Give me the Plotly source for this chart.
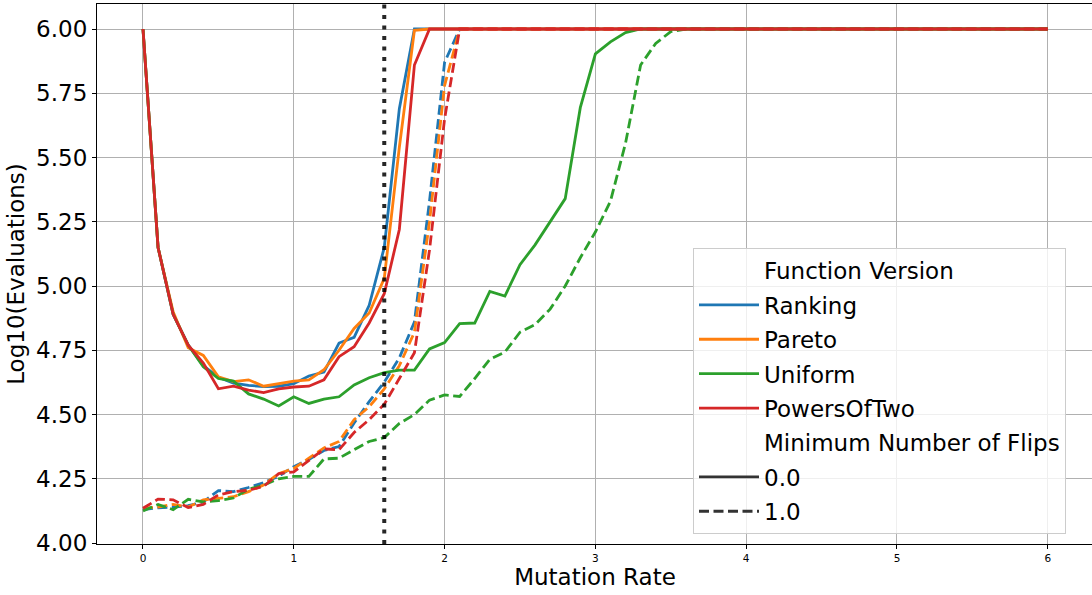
import plotly.graph_objects as go

# ---------------- data ----------------
mutation_rate = [
    0.0, 0.1, 0.2, 0.3, 0.4, 0.5, 0.6, 0.7, 0.8, 0.9,
    1.0, 1.1, 1.2, 1.3, 1.4, 1.5, 1.6, 1.7, 1.8, 1.9,
    2.0, 2.1, 2.2, 2.3, 2.4, 2.5, 2.6, 2.7, 2.8, 2.9,
    3.0, 3.1, 3.2, 3.3, 3.4, 3.5, 3.6, 3.7, 3.8, 3.9,
    4.0, 4.1, 4.2, 4.3, 4.4, 4.5, 4.6, 4.7, 4.8, 4.9,
    5.0, 5.1, 5.2, 5.3, 5.4, 5.5, 5.6, 5.7, 5.8, 5.9,
    6.0,
]

function_versions = ["Ranking", "Pareto", "Uniform", "PowersOfTwo"]
min_flips_levels = ["0.0", "1.0"]

ranking_flips0 = [
    6.0, 5.15, 4.89, 4.77, 4.69, 4.645, 4.622, 4.613, 4.609, 4.61,
    4.62, 4.65, 4.665, 4.778, 4.80, 4.925, 5.15, 5.69, 6.0, 6.0,
    6.0, 6.0, 6.0, 6.0, 6.0, 6.0, 6.0, 6.0, 6.0, 6.0,
    6.0, 6.0, 6.0, 6.0, 6.0, 6.0, 6.0, 6.0, 6.0, 6.0,
    6.0, 6.0, 6.0, 6.0, 6.0, 6.0, 6.0, 6.0, 6.0, 6.0,
    6.0, 6.0, 6.0, 6.0, 6.0, 6.0, 6.0, 6.0, 6.0, 6.0,
    6.0,
]
pareto_flips0 = [
    6.0, 5.15, 4.90, 4.76, 4.73, 4.647, 4.628, 4.635, 4.61, 4.62,
    4.63, 4.635, 4.674, 4.75, 4.835, 4.895, 5.03, 5.54, 5.995, 6.0,
    6.0, 6.0, 6.0, 6.0, 6.0, 6.0, 6.0, 6.0, 6.0, 6.0,
    6.0, 6.0, 6.0, 6.0, 6.0, 6.0, 6.0, 6.0, 6.0, 6.0,
    6.0, 6.0, 6.0, 6.0, 6.0, 6.0, 6.0, 6.0, 6.0, 6.0,
    6.0, 6.0, 6.0, 6.0, 6.0, 6.0, 6.0, 6.0, 6.0, 6.0,
    6.0,
]
uniform_flips0 = [
    6.0, 5.15, 4.89, 4.77, 4.686, 4.64, 4.63, 4.58, 4.56, 4.533,
    4.569, 4.543, 4.56, 4.569, 4.615, 4.643, 4.663, 4.673, 4.673, 4.755,
    4.78, 4.854, 4.856, 4.979, 4.961, 5.083, 5.16, 5.25, 5.34, 5.694,
    5.903, 5.95, 5.986, 6.0, 6.0, 6.0, 6.0, 6.0, 6.0, 6.0,
    6.0, 6.0, 6.0, 6.0, 6.0, 6.0, 6.0, 6.0, 6.0, 6.0,
    6.0, 6.0, 6.0, 6.0, 6.0, 6.0, 6.0, 6.0, 6.0, 6.0,
    6.0,
]
powers_flips0 = [
    6.0, 5.15, 4.89, 4.77, 4.70, 4.60, 4.61, 4.595, 4.585, 4.60,
    4.607, 4.61, 4.635, 4.725, 4.764, 4.856, 4.97, 5.22, 5.86, 6.0,
    6.0, 6.0, 6.0, 6.0, 6.0, 6.0, 6.0, 6.0, 6.0, 6.0,
    6.0, 6.0, 6.0, 6.0, 6.0, 6.0, 6.0, 6.0, 6.0, 6.0,
    6.0, 6.0, 6.0, 6.0, 6.0, 6.0, 6.0, 6.0, 6.0, 6.0,
    6.0, 6.0, 6.0, 6.0, 6.0, 6.0, 6.0, 6.0, 6.0, 6.0,
    6.0,
]

ranking_flips1 = [
    4.13, 4.137, 4.14, 4.145, 4.16, 4.204, 4.20, 4.216, 4.235, 4.26,
    4.297, 4.325, 4.36, 4.375, 4.467, 4.55, 4.626, 4.72, 4.86, 5.33,
    5.87, 6.0, 6.0, 6.0, 6.0, 6.0, 6.0, 6.0, 6.0, 6.0,
    6.0, 6.0, 6.0, 6.0, 6.0, 6.0, 6.0, 6.0, 6.0, 6.0,
    6.0, 6.0, 6.0, 6.0, 6.0, 6.0, 6.0, 6.0, 6.0, 6.0,
    6.0, 6.0, 6.0, 6.0, 6.0, 6.0, 6.0, 6.0, 6.0, 6.0,
    6.0,
]
pareto_flips1 = [
    4.135, 4.14, 4.15, 4.14, 4.168, 4.175, 4.18, 4.20, 4.226, 4.27,
    4.29, 4.33, 4.37, 4.395, 4.48, 4.53, 4.60, 4.69, 4.82, 5.25,
    5.78, 6.0, 6.0, 6.0, 6.0, 6.0, 6.0, 6.0, 6.0, 6.0,
    6.0, 6.0, 6.0, 6.0, 6.0, 6.0, 6.0, 6.0, 6.0, 6.0,
    6.0, 6.0, 6.0, 6.0, 6.0, 6.0, 6.0, 6.0, 6.0, 6.0,
    6.0, 6.0, 6.0, 6.0, 6.0, 6.0, 6.0, 6.0, 6.0, 6.0,
    6.0,
]
uniform_flips1 = [
    4.125, 4.15, 4.13, 4.17, 4.16, 4.165, 4.175, 4.21, 4.225, 4.25,
    4.259, 4.259, 4.327, 4.33, 4.363, 4.395, 4.41, 4.465, 4.50, 4.556,
    4.576, 4.57, 4.64, 4.715, 4.743, 4.82, 4.85, 4.91, 5.0, 5.11,
    5.21, 5.33, 5.556, 5.86, 5.944, 5.99, 6.0, 6.0, 6.0, 6.0,
    6.0, 6.0, 6.0, 6.0, 6.0, 6.0, 6.0, 6.0, 6.0, 6.0,
    6.0, 6.0, 6.0, 6.0, 6.0, 6.0, 6.0, 6.0, 6.0, 6.0,
    6.0,
]
powers_flips1 = [
    4.135, 4.171, 4.168, 4.138, 4.15, 4.187, 4.20, 4.205, 4.22, 4.27,
    4.277, 4.32, 4.366, 4.363, 4.43, 4.48, 4.54, 4.64, 4.74, 5.14,
    5.65, 6.0, 6.0, 6.0, 6.0, 6.0, 6.0, 6.0, 6.0, 6.0,
    6.0, 6.0, 6.0, 6.0, 6.0, 6.0, 6.0, 6.0, 6.0, 6.0,
    6.0, 6.0, 6.0, 6.0, 6.0, 6.0, 6.0, 6.0, 6.0, 6.0,
    6.0, 6.0, 6.0, 6.0, 6.0, 6.0, 6.0, 6.0, 6.0, 6.0,
    6.0,
]

threshold_rate = 1.6

y_tick_vals = [4.00, 4.25, 4.50, 4.75, 5.00, 5.25, 5.50, 5.75, 6.00]
y_tick_text = ["4.00", "4.25", "4.50", "4.75", "5.00", "5.25", "5.50", "5.75", "6.00"]
x_tick_vals = [0, 1, 2, 3, 4, 5, 6]

# ---------------- styling ----------------
colors = {
    "Ranking": "#1f77b4",
    "Pareto": "#ff7f0e",
    "Uniform": "#2ca02c",
    "PowersOfTwo": "#d62728",
}
dashes = {"0.0": "solid", "1.0": "10px,4.5px"}
FONT = "DejaVu Sans"
LW = 2.8

series = {
    ("Ranking", "0.0"): ranking_flips0,
    ("Pareto", "0.0"): pareto_flips0,
    ("Uniform", "0.0"): uniform_flips0,
    ("PowersOfTwo", "0.0"): powers_flips0,
    ("Ranking", "1.0"): ranking_flips1,
    ("Pareto", "1.0"): pareto_flips1,
    ("Uniform", "1.0"): uniform_flips1,
    ("PowersOfTwo", "1.0"): powers_flips1,
}

fig = go.Figure()

for fv in function_versions:
    for mf in min_flips_levels:
        fig.add_trace(go.Scatter(
            x=mutation_rate, y=series[(fv, mf)], mode="lines",
            line=dict(color=colors[fv], width=LW, dash=dashes[mf]),
            showlegend=False, hoverinfo="skip",
        ))

# legend entries (seaborn style: section headers + hue + style)
def legend_entry(name, color, dash, group):
    fig.add_trace(go.Scatter(
        x=[None], y=[None], mode="lines", name=name,
        line=dict(color=color, width=LW, dash=dash),
        legendgroup=group, showlegend=True,
    ))

legend_entry("Function Version", "rgba(0,0,0,0)", "solid", "g0")
for i, fv in enumerate(function_versions):
    legend_entry(fv, colors[fv], "solid", "g%d" % (i + 1))
legend_entry("Minimum Number of Flips", "rgba(0,0,0,0)", "solid", "g5")
for j, mf in enumerate(min_flips_levels):
    legend_entry(mf, "#333333", dashes[mf], "g%d" % (j + 6))

# vertical dotted threshold line
fig.add_shape(
    type="line", xref="x", yref="paper",
    x0=threshold_rate, x1=threshold_rate, y0=0, y1=1,
    line=dict(color="rgba(0,0,0,0.85)", width=4, dash="4px,6.5px"),
    layer="above",
)

axis_common = dict(
    showgrid=True, gridcolor="#b0b0b0", gridwidth=1,
    showline=True, linecolor="black", linewidth=1.2, mirror=True,
    ticks="outside", ticklen=4, tickwidth=1, tickcolor="black",
    zeroline=False, automargin=False,
)

fig.update_layout(
    width=1093, height=595, autosize=False,
    margin=dict(l=97, r=0, t=4, b=51),
    paper_bgcolor="white", plot_bgcolor="white",
    font=dict(family=FONT, color="black"),
    xaxis=dict(
        **axis_common,
        range=[-0.305, 6.30],
        tickvals=x_tick_vals,
        tickfont=dict(size=10.5, family=FONT),
        title=dict(text="Mutation Rate", font=dict(size=23, family=FONT), standoff=3),
    ),
    yaxis=dict(
        **axis_common,
        range=[3.9961, 6.0973],
        tickvals=y_tick_vals, ticktext=y_tick_text,
        tickfont=dict(size=23, family=FONT),
        title=dict(text="Log10(Evaluations)", font=dict(size=23, family=FONT), standoff=5),
    ),
    legend=dict(
        x=(693 - 97) / 996, y=1 - (248 - 4) / 540,
        xanchor="left", yanchor="top",
        bgcolor="rgba(255,255,255,0.8)", bordercolor="#cccccc", borderwidth=1,
        font=dict(size=23, family=FONT, color="black"),
        tracegroupgap=1.5, itemwidth=60, traceorder="grouped",
    ),
)

fig.write_html(
    "out.html",
    config={"displayModeBar": False},
    post_script="document.body.style.margin='0';document.body.style.overflow='hidden';",
)
